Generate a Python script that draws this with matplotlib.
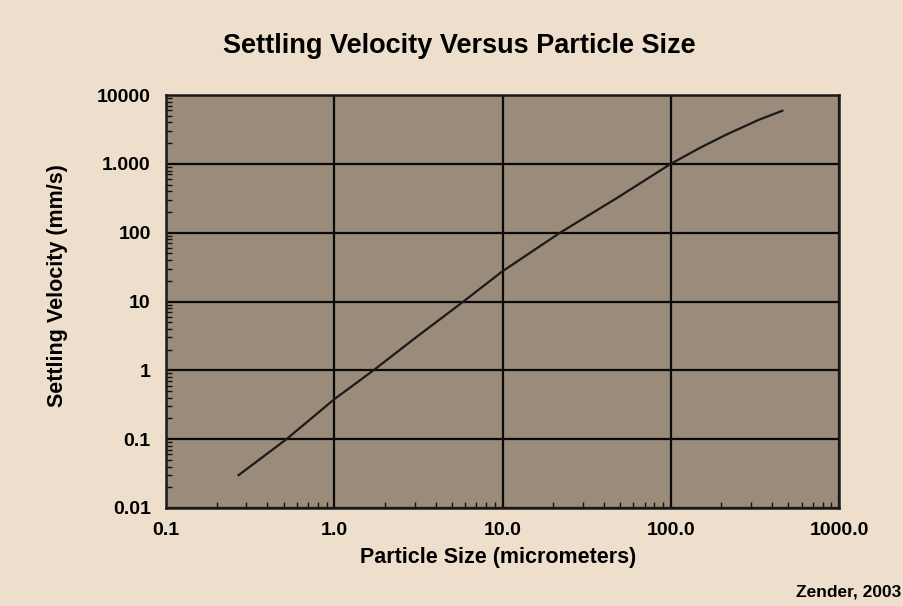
import matplotlib
matplotlib.use("Agg")
import matplotlib.pyplot as plt
from matplotlib.ticker import FixedLocator, LogLocator, NullFormatter

sizes = [0.27, 0.52, 1.0, 1.71, 3.0, 5.86, 10, 22, 48, 100, 150, 212, 334, 460]
velocity = [0.03, 0.1, 0.38, 1.0, 2.9, 10, 27.5, 100, 320, 1000, 1720, 2630, 4370, 5900]

x_ticks = [0.1, 1, 10, 100, 1000]
x_labels = ["0.1", "1.0", "10.0", "100.0", "1000.0"]
y_ticks = [0.01, 0.1, 1, 10, 100, 1000, 10000]
y_labels = ["0.01", "0.1", "1", "10", "100", "1.000", "10000"]

bg = "#eedfcc"
face = "#9a8b7a"
plt.rcParams["font.family"] = ["Liberation Sans", "DejaVu Sans"]

fig = plt.figure(figsize=(9.04, 6.06), dpi=100, facecolor=bg)
ax = fig.add_axes([166/904, 1-508/606, (839-166)/904, (508-95)/606])
ax.set_facecolor(face)
ax.set_xscale("log")
ax.set_yscale("log")
ax.set_xlim(0.1, 1000)
ax.set_ylim(0.01, 10000)

ax.plot(sizes, velocity, color="#1a1a1a", lw=1.6)

ax.xaxis.set_major_locator(FixedLocator(x_ticks))
ax.yaxis.set_major_locator(FixedLocator(y_ticks))
ax.set_xticklabels(x_labels, fontsize=14, fontweight="bold")
ax.set_yticklabels(y_labels, fontsize=14, fontweight="bold")
ax.xaxis.set_minor_locator(LogLocator(base=10, subs=range(2, 10)))
ax.yaxis.set_minor_locator(LogLocator(base=10, subs=range(2, 10)))
ax.xaxis.set_minor_formatter(NullFormatter())
ax.yaxis.set_minor_formatter(NullFormatter())
ax.tick_params(axis="y", which="major", length=0, pad=11)
ax.tick_params(axis="x", which="major", length=0, pad=10)
ax.tick_params(which="minor", direction="in", length=4, width=1, color="#111111")
ax.tick_params(axis="x", which="both", top=False)
ax.tick_params(axis="y", which="both", right=False)

ax.grid(True, which="major", color="#0a0a0a", lw=1.6)
for s in ax.spines.values():
    s.set_color("#1a1a1a")
    s.set_linewidth(1.8)

ax.set_xlabel("Particle Size (micrometers)", fontsize=15.5, fontweight="bold", va="center")
ax.xaxis.set_label_coords(0.494, (508-557)/413)
ax.set_ylabel("Settling Velocity (mm/s)", fontsize=15.5, fontweight="bold", va="center")
ax.yaxis.set_label_coords((57-166)/673, (508-286)/413)
fig.text(459/904, 1-46/606, "Settling Velocity Versus Particle Size", fontsize=19.5,
         fontweight="bold", ha="center", va="center")
fig.text(901/904, 1-592/606, "Zender, 2003", fontsize=12.5, fontweight="bold",
         ha="right", va="center")

fig.savefig("out.png", dpi=100, facecolor=bg)
